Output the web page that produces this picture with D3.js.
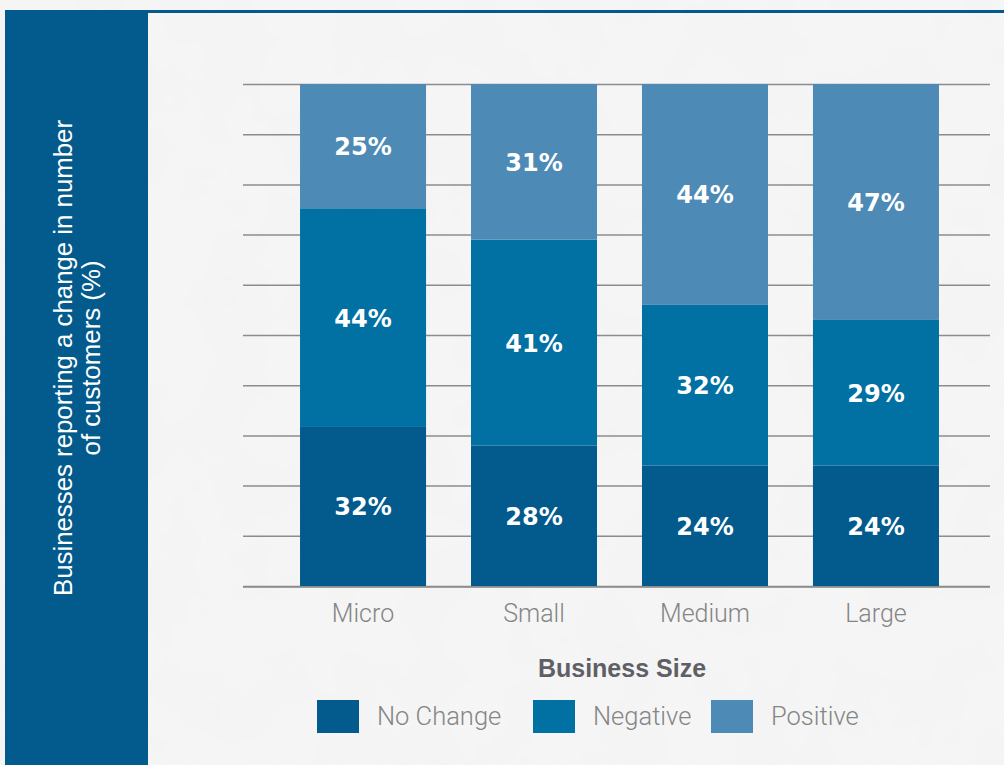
<!DOCTYPE html>
<html>
<head>
<meta charset="utf-8">
<script src="https://cdn.jsdelivr.net/npm/d3@7"></script>
<style>
  html, body { margin: 0; padding: 0; background: #f5f5f5; }
  svg { display: block; }
</style>
</head>
<body>
<svg id="chart" width="1004" height="765"></svg>
<script>
// Share of businesses reporting a change in number of customers, by size
const categories = ["Micro", "Small", "Medium", "Large"];
const noChange = [32, 28, 24, 24];
const negative = [44, 41, 32, 29];
const positive = [25, 31, 44, 47];
const seriesNames = ["No Change", "Negative", "Positive"];
const gridTicks = [0, 0.1, 0.2, 0.3, 0.4, 0.5, 0.6, 0.7, 0.8, 0.9, 1];

const colors = ["#035a8d", "#0170a2", "#4d8ab6"];

const rows = categories.map((c, i) => ({
  category: c,
  "No Change": noChange[i],
  "Negative": negative[i],
  "Positive": positive[i]
}));

const svg = d3.select("#chart");
const W = 1004, H = 765;

// paper-like background grain
const defs = svg.append("defs");
const grain = defs.append("filter").attr("id", "grain")
  .attr("x", 0).attr("y", 0).attr("width", "100%").attr("height", "100%");
grain.append("feTurbulence").attr("type", "fractalNoise")
  .attr("baseFrequency", 0.85).attr("numOctaves", 2).attr("seed", 4).attr("result", "n");
grain.append("feColorMatrix").attr("in", "n").attr("type", "matrix")
  .attr("values", "0 0 0 0 0.5  0 0 0 0 0.5  0 0 0 0 0.52  0 0 0 0.08 -0.01");
const mottle = defs.append("filter").attr("id", "mottle")
  .attr("x", 0).attr("y", 0).attr("width", "100%").attr("height", "100%");
mottle.append("feTurbulence").attr("type", "fractalNoise")
  .attr("baseFrequency", 0.015).attr("numOctaves", 3).attr("seed", 9).attr("result", "m");
mottle.append("feColorMatrix").attr("in", "m").attr("type", "matrix")
  .attr("values", "0 0 0 0 0.6  0 0 0 0 0.6  0 0 0 0 0.62  0 0 0 0.08 -0.03");

svg.append("rect").attr("width", W).attr("height", H).attr("fill", "#f7f7f7");
svg.append("rect").attr("width", W).attr("height", H).attr("filter", "url(#mottle)");
svg.append("rect").attr("width", W).attr("height", H).attr("filter", "url(#grain)");

// top rule and left title panel
const panelColor = "#035a8c";
svg.append("rect").attr("x", 5).attr("y", 10).attr("width", W - 5).attr("height", 3).attr("fill", panelColor);
svg.append("rect").attr("x", 5).attr("y", 10).attr("width", 143).attr("height", H - 10).attr("fill", panelColor);

const yTitle = svg.append("text")
  .attr("transform", "translate(0,358) rotate(-90)")
  .attr("text-anchor", "middle")
  .attr("fill", "#ffffff")
  .style("font-family", "'Liberation Sans', Arial, sans-serif")
  .style("font-size", "25.8px");
yTitle.append("tspan").attr("x", 0).attr("y", 72).text("Businesses reporting a change in number");
yTitle.append("tspan").attr("x", 0).attr("y", 100).text("of customers (%)");

// scales
const x = d3.scaleBand().domain(categories).range([246, 993])
  .paddingInner(0.263).paddingOuter(0.316);
const y = d3.scaleLinear().domain([0, 1]).range([586, 84]);

// gridlines
const grid = svg.append("g").attr("transform", "translate(243,0)")
  .call(d3.axisLeft(y).tickValues(gridTicks).tickSize(-(990 - 243)).tickFormat(""));
grid.select(".domain").remove();
grid.selectAll(".tick line").attr("stroke", "#8c8c8c").attr("stroke-width", 1.5);

// stacked bars, normalised to 100%
const stack = d3.stack().keys(seriesNames).offset(d3.stackOffsetExpand);
const layers = stack(rows);

const layerG = svg.append("g").selectAll("g").data(layers).join("g")
  .attr("fill", (d, i) => colors[i]);
layerG.selectAll("rect").data(d => d).join("rect")
  .attr("x", d => x(d.data.category))
  .attr("width", x.bandwidth())
  .attr("y", d => y(d[1]))
  .attr("height", d => y(d[0]) - y(d[1]));

// value labels
layers.forEach((layer) => {
  svg.append("g").selectAll("text").data(layer).join("text")
    .attr("x", d => x(d.data.category) + x.bandwidth() / 2)
    .attr("y", d => (y(d[0]) + y(d[1])) / 2 + 9)
    .attr("text-anchor", "middle")
    .attr("fill", "#ffffff")
    .style("font-family", "'DejaVu Sans', sans-serif")
    .style("font-weight", "bold")
    .style("font-size", "24px")
    .text(d => d.data[layer.key] + "%");
});

// x axis
const xAxis = svg.append("g").attr("transform", "translate(0,587)")
  .call(d3.axisBottom(x).tickSize(0).tickPadding(0));
xAxis.select(".domain").remove();
svg.append("line").attr("x1", 243).attr("x2", 990).attr("y1", 587).attr("y2", 587)
  .attr("stroke", "#8c8c8c").attr("stroke-width", 1.5);
xAxis.selectAll("text")
  .attr("dy", 0).attr("y", 35)
  .attr("fill", "#858585")
  .style("font-family", "Roboto, sans-serif")
  .style("font-weight", 300)
  .style("font-size", "25px");

// axis title
svg.append("text").attr("x", 622).attr("y", 677)
  .attr("text-anchor", "middle")
  .attr("fill", "#5f6066")
  .style("font-family", "'Liberation Sans', Arial, sans-serif")
  .style("font-weight", "bold")
  .style("font-size", "25px")
  .text("Business Size");

// legend
const legendX = [317, 533, 711];
const legend = svg.append("g").selectAll("g").data(seriesNames).join("g")
  .attr("transform", (d, i) => `translate(${legendX[i]},700)`);
legend.append("rect").attr("width", 42).attr("height", 33).attr("fill", (d, i) => colors[i]);
legend.append("text").attr("x", 60).attr("y", 25)
  .attr("fill", "#858585")
  .style("font-family", "Roboto, sans-serif")
  .style("font-weight", 300)
  .style("font-size", "25.5px")
  .text(d => d);
</script>
</body>
</html>
